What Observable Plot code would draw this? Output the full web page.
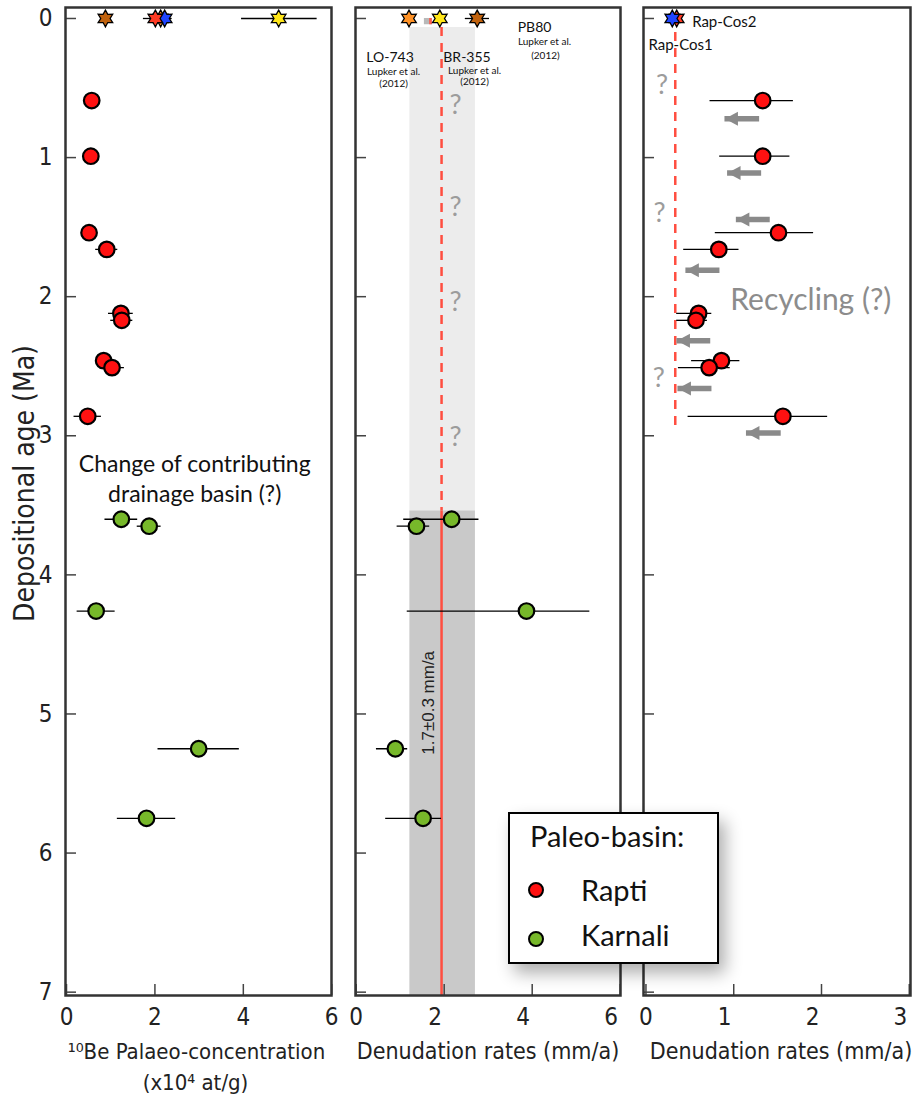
<!DOCTYPE html>
<html>
<head>
<meta charset="utf-8">
<script src="https://cdn.jsdelivr.net/npm/d3@7"></script>
<script src="https://cdn.jsdelivr.net/npm/@observablehq/plot@0.6"></script>
<style>
  body { margin: 0; background: #fff; }
  #wrap { position: relative; width: 924px; height: 1100px; overflow: hidden; background: #fff; }
  #legend { position: absolute; left: 508px; top: 812px; width: 207px; height: 148px;
            border: 2.5px solid #000; background: #fff; box-shadow: 6px 9px 16px rgba(0,0,0,0.32);
            font-family: Lato, "Open Sans", sans-serif; color: #111; }
  #legend .t { position: absolute; font-size: 29px; line-height: 30px; white-space: nowrap; }
  #legend svg { position: absolute; }
</style>
</head>
<body>
<div id="wrap"></div>
<script>
// ---------------- data ----------------
const ageTicks = [0, 1, 2, 3, 4, 5, 6, 7];
const concTicks = [0, 2, 4, 6];
const rateTicks = [0, 2, 4, 6];
const rate3Ticks = [0, 1, 2, 3];

// Rapti paleo-basin samples
const raptiAge      = [0.59, 0.99, 1.54, 1.66, 2.12, 2.17, 2.46, 2.51, 2.86];
const raptiConc     = [0.57, 0.55, 0.51, 0.91, 1.23, 1.25, 0.84, 1.03, 0.48];
const raptiConcErr  = [0.10, 0.10, 0.10, 0.25, 0.28, 0.25, 0.15, 0.28, 0.31];
const raptiRate     = [1.33, 1.33, 1.51, 0.83, 0.60, 0.57, 0.86, 0.72, 1.56];
const raptiRateLo   = [0.73, 0.84, 0.79, 0.43, 0.35, 0.35, 0.52, 0.37, 0.48];
const raptiRateHi   = [1.68, 1.64, 1.91, 1.06, 0.75, 0.70, 1.07, 0.96, 2.07];

// Karnali paleo-basin samples
const karnaliAge     = [3.60, 3.65, 4.26, 5.25, 5.75];
const karnaliConc    = [1.24, 1.87, 0.67, 2.99, 1.81];
const karnaliConcErr = [0.37, 0.27, 0.43, 0.92, 0.66];
const karnaliRate    = [2.17, 1.37, 3.87, 0.89, 1.52];
const karnaliRateLo  = [1.08, 0.93, 1.16, 0.46, 0.67];
const karnaliRateHi  = [2.79, 1.67, 5.31, 1.17, 1.94];

// Modern river samples (age 0)
const modernName    = ["LO-743", "PB80", "Rap-Cos2", "Rap-Cos1", "BR-355"];
const modernColor   = ["#ff9226", "#c0620e", "#1f45ff", "#ff3b24", "#ffe619"];
const modernConc    = [2.13, 0.88, 2.22, 2.01, 4.80];
const modernConcLo  = [null, null, null, 1.74, 3.96];
const modernConcHi  = [null, null, null, 2.39, 5.67];
const modernRate    = [1.20, 2.75, 0.30, 0.35, 1.90];
const modernRateLo  = [null, 2.48, null, null, null];
const modernRateHi  = [null, 3.03, null, null, null];
const modernPanel   = ["mid", "mid", "right", "right", "mid"];

// Karnali mean denudation band (low, mean, high) and its age extent
const bandRate = [1.22, 1.94, 2.71];
const bandAge  = [0.065, 3.54, 7.024];
const bandSwatch = [{x1: 1.55, x2: 1.73, y1: 0.0, y2: 0.045, c: "#b9b9b9"}, {x1: 1.67, x2: 1.73, y1: 0.0, y2: 0.045, c: "#ff5a4a"}];

// Rap-Cos1 modern rate (dashed reference) and its age extent
const rapCosRate = [0.334];
const rapCosAge  = [0.1, 2.93];

// Recycling arrows (tip, tail, age)
const arrowTip  = [0.90, 0.93, 1.03, 0.455, 0.353, 0.364, 1.145];
const arrowTail = [1.295, 1.318, 1.416, 0.843, 0.738, 0.752, 1.541];
const arrowAge  = [0.72, 1.11, 1.445, 1.81, 2.316, 2.66, 2.98];

// annotations
const q2Age = [0.625, 1.36, 2.04, 3.01];
const q2Rate = [2.26];
const q3 = [{x: 0.183, y: 0.48}, {x: 0.156, y: 1.40}, {x: 0.145, y: 2.59}];

// ---------------- build ----------------
const RED = "#ff1111", GREEN = "#77b82a";
const SANS = "Lato, 'Open Sans', sans-serif";
const NARROW = "'Liberation Sans Narrow', 'DejaVu Sans Condensed', 'Liberation Sans', sans-serif";
const ARIAL = "'Liberation Sans', Arial, sans-serif";

const rapti = raptiAge.map((age, i) => ({age, conc: raptiConc[i], concLo: raptiConc[i] - raptiConcErr[i], concHi: raptiConc[i] + raptiConcErr[i],
  rate: raptiRate[i], rateLo: raptiRateLo[i], rateHi: raptiRateHi[i]}));
const karnali = karnaliAge.map((age, i) => ({age, conc: karnaliConc[i], concLo: karnaliConc[i] - karnaliConcErr[i], concHi: karnaliConc[i] + karnaliConcErr[i],
  rate: karnaliRate[i], rateLo: karnaliRateLo[i], rateHi: karnaliRateHi[i]}));
const modern = modernName.map((name, i) => ({name, age: 0, color: modernColor[i], conc: modernConc[i], concLo: modernConcLo[i], concHi: modernConcHi[i],
  rate: modernRate[i], rateLo: modernRateLo[i], rateHi: modernRateHi[i], panel: modernPanel[i]}));
const arrows = arrowTip.map((tip, i) => ({tip, tail: arrowTail[i], age: arrowAge[i]}));

const hexagram = {
  draw(context, size) {
    const R = Math.sqrt(size / Math.PI) * 1.05;
    const r = R * 0.56;
    for (let i = 0; i < 12; i++) {
      const a = -Math.PI / 2 + i * Math.PI / 6;
      const rr = i % 2 === 0 ? R : r;
      const x = rr * Math.cos(a), y = rr * Math.sin(a);
      if (i === 0) context.moveTo(x, y); else context.lineTo(x, y);
    }
    context.closePath();
  }
};
const arrowHead = {
  draw(context) {
    context.moveTo(0, 0);
    context.lineTo(13, -7);
    context.lineTo(13, 7);
    context.closePath();
  }
};

const wrap = document.getElementById("wrap");
const ageExtent = [-0.079, 7.024];
const FRAME_H = 988;
const fmt = d => String(d);

function commonMarks(xTicks, frameW, withY, labelShift = 0) {
  const axisOpts = {tickSize: 0, tickPadding: 12, tickFormat: fmt, fontSize: 24, fontFamily: NARROW, fill: "#222", label: null};
  return [
    Plot.tickY(ageTicks, {y: d => d, stroke: "#444", strokeWidth: 1.5, insetRight: frameW - 11}),
    Plot.tickX(xTicks, {x: d => d, stroke: "#444", strokeWidth: 1.5, insetTop: FRAME_H - 11}),
    Plot.frame({stroke: "#333", strokeWidth: 2.5}),
    Plot.axisX(xTicks.filter(d => d === 0), axisOpts),
    Plot.axisX(xTicks.filter(d => d !== 0), {...axisOpts, dx: labelShift}),
    ...(withY ? [Plot.axisY(ageTicks, {tickSize: 0, tickPadding: 13, tickFormat: fmt, fontSize: 24, fontFamily: NARROW, fill: "#222", label: null})] : [])
  ];
}

function panel({left, width, marginLeft, marginRight, xDomain, marks}) {
  const svg = Plot.plot({
    width, height: 1100, marginTop: 7, marginBottom: 105, marginLeft, marginRight,
    x: {domain: xDomain, axis: null},
    y: {domain: ageExtent, reverse: true, axis: null},
    color: {type: "identity"},
    style: {background: "transparent", overflow: "visible", maxWidth: "none"},
    marks
  });
  svg.style.position = "absolute";
  svg.style.left = left + "px";
  svg.style.top = "0px";
  wrap.appendChild(svg);
}

const titleStyle = {fontFamily: NARROW, fontSize: 23, fill: "#222", textAnchor: "middle", lineAnchor: "middle"};

// ---- Panel 1: 10Be palaeo-concentration ----
{
  const width = 340, ml = 65, mr = 9;
  const fw = width - ml - mr;
  panel({
    left: 0, width, marginLeft: ml, marginRight: mr, xDomain: [-0.023, 5.995],
    marks: [
      ...commonMarks(concTicks, fw, true, 0),
      Plot.ruleY(rapti, {y: "age", x1: "concLo", x2: "concHi", stroke: "#000", strokeWidth: 1.3}),
      Plot.ruleY(karnali, {y: "age", x1: "concLo", x2: "concHi", stroke: "#000", strokeWidth: 1.3}),
      Plot.ruleY(modern.filter(d => d.concLo != null), {y: "age", x1: "concLo", x2: "concHi", stroke: "#000", strokeWidth: 1.3}),
      Plot.dot(modern, {x: "conc", y: "age", fill: "color", stroke: "#000", strokeWidth: 1.3, r: 8, symbol: hexagram}),
      Plot.dot(rapti, {x: "conc", y: "age", fill: RED, stroke: "#000", strokeWidth: 2.2, r: 7.8}),
      Plot.dot(karnali, {x: "conc", y: "age", fill: GREEN, stroke: "#000", strokeWidth: 2.2, r: 7.8}),
      Plot.text(["Change of contributing", "drainage basin (?)"], {x: 2.90, y: (d, i) => [3.21, 3.42][i], text: d => d,
        fontFamily: SANS, fontSize: 23, fill: "#111", lineAnchor: "middle"}),
      Plot.text(["Depositional age (Ma)"], {...titleStyle, text: d => d, frameAnchor: "left", dx: -40, dy: -18, rotate: -90, fontSize: 28}),
      Plot.text(["¹⁰Be Palaeo-concentration"], {...titleStyle, text: d => d, frameAnchor: "bottom", dx: -2, dy: 56, fontSize: 22}),
      Plot.text(["(x10⁴ at/g)"], {...titleStyle, text: d => d, frameAnchor: "bottom", dx: -3, dy: 87, fontSize: 22})
    ]
  });
}

// ---- Panel 2: Denudation rates (Lupker + Karnali) ----
{
  const width = 290, ml = 15, mr = 10;
  const fw = width - ml - mr;
  const mid = modern.filter(d => d.panel === "mid");
  panel({
    left: 340, width, marginLeft: ml, marginRight: mr, xDomain: [-0.016, 6.007],
    marks: [
      Plot.rect([0], {x1: bandRate[0], x2: bandRate[2], y1: bandAge[0], y2: bandAge[1], fill: "#ececec"}),
      Plot.rect([0], {x1: bandRate[0], x2: bandRate[2], y1: bandAge[1], y2: bandAge[2], fill: "#c9c9c9"}),
      Plot.rect(bandSwatch, {x1: "x1", x2: "x2", y1: "y1", y2: "y2", fill: "c"}),
      Plot.ruleX([bandRate[1]], {y1: bandAge[0], y2: bandAge[1], stroke: "#ff4e40", strokeWidth: 2.5, strokeDasharray: "9,7"}),
      Plot.ruleX([bandRate[1]], {y1: bandAge[1], y2: bandAge[2], stroke: "#ff4e40", strokeWidth: 2.5}),
      ...commonMarks(rateTicks, fw, false, -9),
      Plot.text(q2Age, {x: q2Rate[0], y: d => d, text: () => "?", fontFamily: SANS, fontSize: 27, fill: "#9c9c9c"}),
      Plot.text(["1.7±0.3 mm/a"], {x: 1.64, y: 4.92, text: d => d, rotate: -90, fontFamily: ARIAL, fontSize: 17, fill: "#222"}),
      Plot.ruleY(karnali, {y: "age", x1: "rateLo", x2: "rateHi", stroke: "#000", strokeWidth: 1.3}),
      Plot.ruleY(mid.filter(d => d.rateLo != null), {y: "age", x1: "rateLo", x2: "rateHi", stroke: "#000", strokeWidth: 1.3}),
      Plot.dot(mid, {x: "rate", y: "age", fill: "color", stroke: "#000", strokeWidth: 1.3, r: 8, symbol: hexagram}),
      Plot.dot(karnali, {x: "rate", y: "age", fill: GREEN, stroke: "#000", strokeWidth: 2.2, r: 7.8}),
      Plot.text(["PB80", "LO-743", "BR-355"], {x: (d, i) => [3.67, 0.23, 1.98][i], y: (d, i) => [0.068, 0.284, 0.278][i], text: d => d,
        textAnchor: "start", fontFamily: SANS, fontSize: 14, fill: "#111"}),
      Plot.text(["Lupker et al.", "(2012)", "Lupker et al.", "(2012)", "Lupker et al.", "(2012)"], {
        x: (d, i) => [4.28, 4.30, 0.85, 0.85, 2.69, 2.69][i], y: (d, i) => [0.171, 0.265, 0.38, 0.473, 0.375, 0.455][i], text: d => d,
        fontFamily: SANS, fontSize: 10, fill: "#111"}),
      Plot.text(["Denudation rates (mm/a)"], {...titleStyle, text: d => d, frameAnchor: "bottom", dy: 56})
    ]
  });
}

// ---- Panel 3: Denudation rates (Rapti) ----
{
  const width = 294, ml = 13, mr = 14;
  const fw = width - ml - mr;
  const right = modern.filter(d => d.panel === "right").reverse();
  panel({
    left: 630, width, marginLeft: ml, marginRight: mr, xDomain: [-0.028, 3.014],
    marks: [
      Plot.ruleX(rapCosRate, {y1: rapCosAge[0], y2: rapCosAge[1], stroke: "#ff4e40", strokeWidth: 2.5, strokeDasharray: "9,7"}),
      ...commonMarks(rate3Ticks, fw, false, -9),
      Plot.text(q3, {x: "x", y: "y", text: () => "?", fontFamily: SANS, fontSize: 27, fill: "#9c9c9c"}),
      Plot.text(["Recycling (?)"], {x: 1.878, y: 2.03, text: d => d, fontFamily: SANS, fontSize: 30, fill: "#8c8c8c"}),
      Plot.ruleY(arrows, {y: "age", x1: "tip", x2: "tail", stroke: "#8a8a8a", strokeWidth: 5.5}),
      Plot.dot(arrows, {x: "tip", y: "age", symbol: arrowHead, fill: "#8a8a8a", stroke: null}),
      Plot.ruleY(rapti, {y: "age", x1: "rateLo", x2: "rateHi", stroke: "#000", strokeWidth: 1.3}),
      Plot.dot(right, {x: "rate", y: "age", fill: "color", stroke: "#000", strokeWidth: 1.3, r: 8, symbol: hexagram}),
      Plot.dot(rapti, {x: "rate", y: "age", fill: RED, stroke: "#000", strokeWidth: 2.2, r: 7.8}),
      Plot.text(["Rap-Cos2", "Rap-Cos1"], {x: (d, i) => [0.526, 0.028][i], y: (d, i) => [0.025, 0.19][i], text: d => d,
        textAnchor: "start", fontFamily: SANS, fontSize: 15, fill: "#111"}),
      Plot.text(["Denudation rates (mm/a)"], {...titleStyle, text: d => d, frameAnchor: "bottom", dx: 4, dy: 56})
    ]
  });
}

// ---- Legend ----
const legend = document.createElement("div");
legend.id = "legend";
const item = (label, color, top, textTop) => `
  <svg width="20" height="20" style="left:16px;top:${top - 10}px"><circle cx="10" cy="10" r="7" fill="${color}" stroke="#000" stroke-width="2"/></svg>
  <div class="t" style="left:71px;top:${textTop}px">${label}</div>`;
legend.innerHTML = `<div class="t" style="left:20px;top:7px">Paleo-basin:</div>` +
  item("Rapti", RED, 76, 61) + item("Karnali", GREEN, 125, 106);
wrap.appendChild(legend);
</script>
</body>
</html>
